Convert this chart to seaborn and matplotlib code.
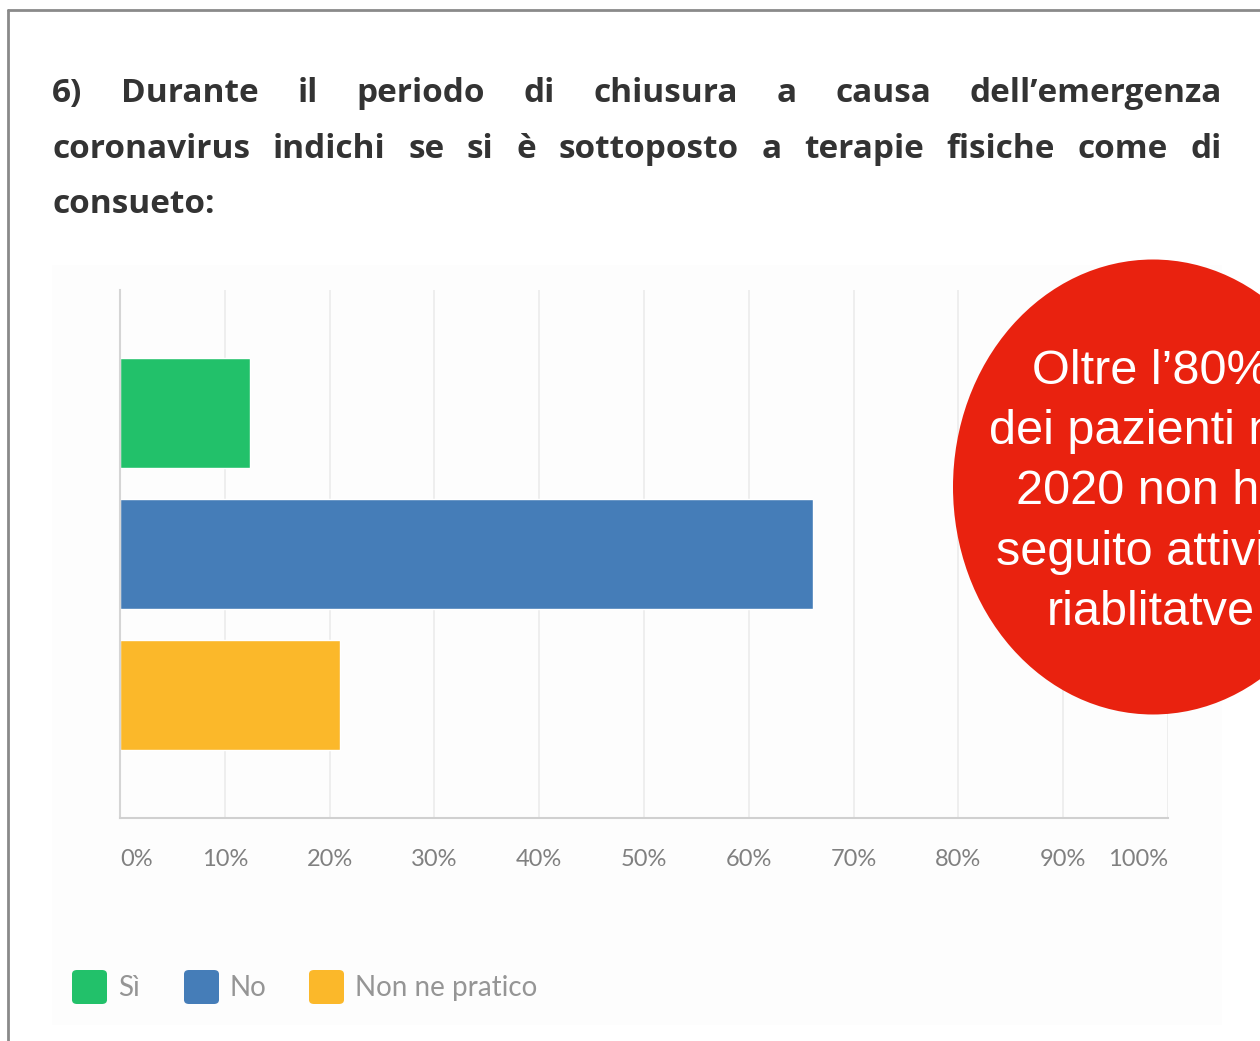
import matplotlib
matplotlib.use("Agg")
import matplotlib.pyplot as plt
from matplotlib.patches import Rectangle, Ellipse, FancyBboxPatch
from matplotlib.lines import Line2D
import seaborn as sns

# dati
categories = ["Sì", "No", "Non ne pratico"]
percentages = [12.4, 66.1, 21.0]
colors = ["#22c16a", "#457db8", "#fbb82a"]
tick_values = [0, 10, 20, 30, 40, 50, 60, 70, 80, 90, 100]
tick_labels = [f"{v}%" for v in tick_values]

title_lines = [
    "6) Durante il periodo di chiusura a causa dell’emergenza",
    "coronavirus indichi se si è sottoposto a terapie fisiche come di",
    "consueto:",
]
bubble_text = "Oltre l’80%\ndei pazienti nel\n2020 non ha\nseguito attività\nriablitatve"

W, H = 1260, 1041
sns.set_theme(style="white")
plt.rcParams["font.family"] = ["Lato", "DejaVu Sans"]

fig = plt.figure(figsize=(W / 100, H / 100), dpi=100)
fig.patch.set_facecolor("white")


def fx(px):
    return px / W


def fy(py):
    return 1 - py / H


# cornice grigia dello screenshot
fig.add_artist(Line2D([fx(8), 1], [fy(10), fy(10)], color="#8a8a8a", lw=2))
fig.add_artist(Line2D([fx(8), fx(8)], [fy(10), 0], color="#8a8a8a", lw=2))

# pannello del grafico
fig.add_artist(Rectangle((fx(52), fy(1025)), fx(1222) - fx(52), fy(265) - fy(1025),
                         facecolor="#fdfdfd", edgecolor="none", zorder=0))

# titolo giustificato
renderer = fig.canvas.get_renderer()
title_kw = dict(fontsize=24, fontweight="bold", color="#333333",
                family=["Open Sans", "DejaVu Sans"], va="baseline", ha="left")
x_left, x_right = 52, 1222
baselines = [102, 158, 213]
for i, line in enumerate(title_lines):
    words = line.split(" ")
    texts = [fig.text(0, fy(baselines[i]), w, **title_kw) for w in words]
    widths = [t.get_window_extent(renderer).width for t in texts]
    if i < len(title_lines) - 1 and len(words) > 1:
        gap = (x_right - x_left - sum(widths)) / (len(words) - 1)
    else:
        gap = 10
    x = x_left
    for t, w in zip(texts, widths):
        t.set_x(fx(x))
        x += w + gap

# grafico a barre
ax = fig.add_axes([fx(120), fy(818), fx(1168) - fx(120), fy(290) - fy(818)])
ax.set_facecolor("none")
sns.barplot(x=percentages, y=categories, hue=categories, palette=colors,
            orient="h", width=0.775, legend=False, ax=ax, saturation=1)
ax.set_xlim(0, 100)
ax.set_ylim(2.872, -0.872)
ax.set_xticks(tick_values)
ax.set_xticklabels(tick_labels)
ax.set_yticks([])
ax.set_ylabel("")
ax.set_xlabel("")
ax.grid(axis="x", color="#ececec", lw=1.2)
ax.set_axisbelow(True)
for s in ["top", "right"]:
    ax.spines[s].set_visible(False)
ax.spines["bottom"].set_color("#d0d0d0")
ax.spines["bottom"].set_linewidth(1.5)
ax.spines["left"].set_color("#d5d5d5")
ax.spines["left"].set_linewidth(1.5)
ax.tick_params(axis="x", length=0, pad=22, labelsize=17, labelcolor="#808080")
tl = ax.get_xticklabels()
tl[0].set_ha("left")
tl[-1].set_ha("right")

# legenda
legend_items = [(72, 118), (184, 230), (309, 355)]
for (sx, tx), lab, col in zip(legend_items, categories, colors):
    fig.add_artist(FancyBboxPatch((fx(sx), fy(1004)), fx(35), 34 / H,
                                  boxstyle="round,pad=0,rounding_size=0.004",
                                  facecolor=col, edgecolor="none"))
    fig.text(fx(tx), fy(988), lab, fontsize=20, color="#959595", va="center", ha="left")

# cerchio rosso
fig.add_artist(Ellipse((fx(1153), fy(487)), fx(400), 455 / H,
                       facecolor="#e9220f", edgecolor="none", zorder=5))
fig.text(fx(1151), fy(492), bubble_text, fontsize=35, color="white",
         family=["Liberation Sans", "DejaVu Sans"], ha="center", va="center",
         linespacing=1.42, zorder=6)

fig.savefig("out.png", dpi=100)
